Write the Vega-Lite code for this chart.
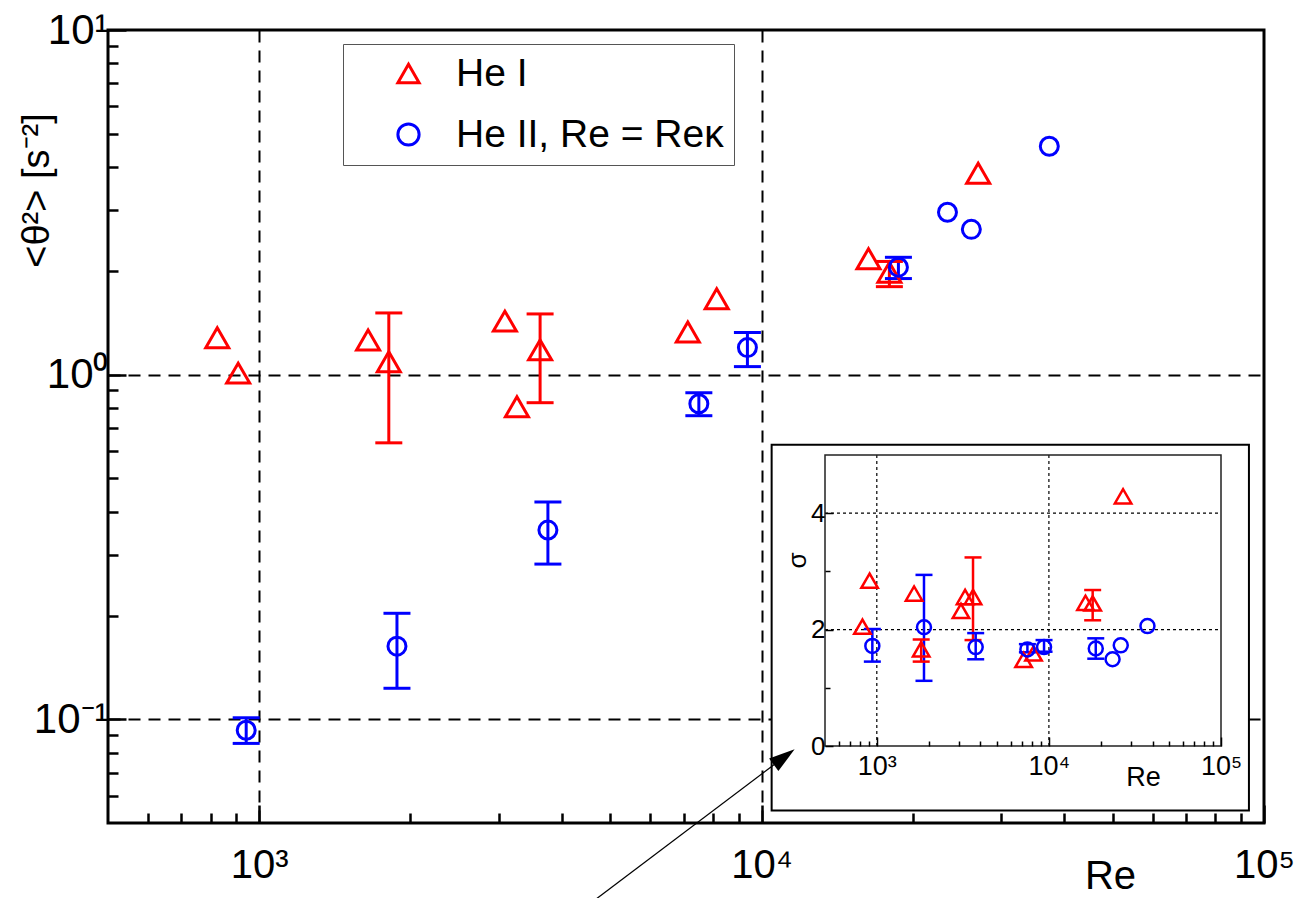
{
"$schema":"https://vega.github.io/schema/vega-lite/v6.json",
"width":1156,"height":793,
"autosize":{"type":"none"},
"padding":{"left":108,"top":30,"right":31,"bottom":75},
"background":"white",
"config":{
 "font":"Liberation Sans",
 "view":{"stroke":"black","strokeWidth":3},
 "axis":{"domain":false,"labelColor":"black","titleColor":"black","tickColor":"black","titleFontWeight":"normal","labelFont":"Liberation Sans","titleFont":"Liberation Sans","labelOverlap":false,"labelFlush":false}
},
"data":{"values":[
 {"series":"He I","Re":825,"th":1.28,"sg":2.05},
 {"series":"He I","Re":908,"th":1.01,"sg":2.84},
 {"series":"He I","Re":1647,"th":1.26,"sg":2.62},
 {"series":"He I","Re":1811,"th":1.09,"th_lo":0.634,"th_hi":1.51,"sg":1.66,"sg_lo":1.45,"sg_hi":1.83},
 {"series":"He I","Re":3083,"th":1.43,"sg":2.32},
 {"series":"He I","Re":3258,"th":0.807,"sg":2.56},
 {"series":"He I","Re":3623,"th":1.18,"th_lo":0.829,"th_hi":1.50,"sg":2.56,"sg_lo":1.82,"sg_hi":3.24},
 {"series":"He I","Re":7130,"th":1.33,"sg":1.48},
 {"series":"He I","Re":8140,"th":1.66,"sg":1.59},
 {"series":"He I","Re":16320,"th":2.17,"sg":2.46},
 {"series":"He I","Re":17960,"th":1.98,"th_lo":1.80,"th_hi":2.13,"sg":2.45,"sg_lo":2.16,"sg_hi":2.68},
 {"series":"He I","Re":26980,"th":3.84,"sg":4.29},
 {"series":"He II, Re = Reκ","Re":942,"th":0.0929,"th_lo":0.0851,"th_hi":0.101,"sg":1.72,"sg_lo":1.45,"sg_hi":2.01},
 {"series":"He II, Re = Reκ","Re":1880,"th":0.163,"th_lo":0.123,"th_hi":0.203,"sg":2.04,"sg_lo":1.12,"sg_hi":2.94},
 {"series":"He II, Re = Reκ","Re":3755,"th":0.354,"th_lo":0.282,"th_hi":0.427,"sg":1.70,"sg_lo":1.49,"sg_hi":1.94},
 {"series":"He II, Re = Reκ","Re":7500,"th":0.823,"th_lo":0.760,"th_hi":0.886,"sg":1.66,"sg_lo":1.61,"sg_hi":1.75},
 {"series":"He II, Re = Reκ","Re":9370,"th":1.198,"th_lo":1.055,"th_hi":1.325,"sg":1.70,"sg_lo":1.62,"sg_hi":1.82},
 {"series":"He II, Re = Reκ","Re":18720,"th":2.05,"th_lo":1.90,"th_hi":2.19,"sg":1.675,"sg_lo":1.50,"sg_hi":1.85},
 {"series":"He II, Re = Reκ","Re":23440,"th":2.96,"sg":1.49},
 {"series":"He II, Re = Reκ","Re":26150,"th":2.64,"sg":1.73},
 {"series":"He II, Re = Reκ","Re":37380,"th":4.60,"sg":2.06}
]},
"layer":[
 {"layer":[
  {"data":{"values":[{}]},
   "mark":{"type":"rect","fill":"white","stroke":"black","strokeWidth":2},
   "encoding":{"x":{"datum":10470,"type":"quantitative"},"x2":{"datum":93330},"y":{"datum":0.626,"type":"quantitative"},"y2":{"datum":0.0544}}},
  {"transform":[{"filter":"isValid(datum.th_lo)"}],
   "mark":{"type":"rule","strokeWidth":3},
   "encoding":{"x":{"field":"Re","type":"quantitative"},"y":{"field":"th_lo","type":"quantitative"},"y2":{"field":"th_hi"},
     "color":{"condition":{"test":"datum.series == 'He I'","value":"#ff0000"},"value":"#0000ff"}}},
  {"transform":[{"filter":"isValid(datum.th_lo)"}],
   "mark":{"type":"tick","orient":"horizontal","size":27,"thickness":3,"opacity":1},
   "encoding":{"x":{"field":"Re","type":"quantitative"},"y":{"field":"th_lo","type":"quantitative"},
     "color":{"condition":{"test":"datum.series == 'He I'","value":"#ff0000"},"value":"#0000ff"}}},
  {"transform":[{"filter":"isValid(datum.th_hi)"}],
   "mark":{"type":"tick","orient":"horizontal","size":27,"thickness":3,"opacity":1},
   "encoding":{"x":{"field":"Re","type":"quantitative"},"y":{"field":"th_hi","type":"quantitative"},
     "color":{"condition":{"test":"datum.series == 'He I'","value":"#ff0000"},"value":"#0000ff"}}},
  {"transform":[{"filter":"datum.series == 'He I'"}],
   "mark":{"type":"point","filled":false,"strokeWidth":3,"size":529,"opacity":1},
   "encoding":{
    "x":{"field":"Re","type":"quantitative","scale":{"type":"log","domain":[500,100000],"nice":false},
      "axis":{"orient":"bottom","values":[600,700,800,900,1000,2000,3000,4000,5000,6000,7000,8000,9000,10000,20000,30000,40000,50000,60000,70000,80000,90000,100000],
        "labelExpr":"datum.value == 1000 ? '10³' : datum.value == 10000 ? '10⁴' : datum.value == 100000 ? '10⁵' : ''",
        "labelFontSize":40,"labelPadding":40,
        "tickSize":{"condition":{"test":"datum.value == 1000 || datum.value == 10000 || datum.value == 100000","value":-18},"value":-10},
        "tickWidth":2.5,"grid":true,"gridColor":"black","gridDash":[12,8],"gridWidth":2,
        "gridOpacity":{"condition":{"test":"datum.value == 1000 || datum.value == 10000","value":1},"value":0},
        "title":"Re","titleFontSize":40,"titleX":1002,"titleY":65,"titleAlign":"center","titleBaseline":"alphabetic"}},
    "y":{"field":"th","type":"quantitative","scale":{"type":"log","domain":[0.05,10],"nice":false},
      "axis":{"orient":"left","values":[0.06,0.07,0.08,0.09,0.1,0.2,0.3,0.4,0.5,0.6,0.7,0.8,0.9,1,2,3,4,5,6,7,8,9,10],
        "labelExpr":"datum.value == 0.1 ? '10⁻¹' : datum.value == 1 ? '10⁰' : datum.value == 10 ? '10¹' : ''",
        "labelFontSize":42,"labelPadding":18,"labelBaseline":"middle",
        "tickSize":{"condition":{"test":"datum.value == 0.1 || datum.value == 1 || datum.value == 10","value":-18},"value":-10},
        "tickWidth":2.5,"grid":true,"gridColor":"black","gridDash":[12,8],"gridWidth":2,
        "gridOpacity":{"condition":{"test":"datum.value == 0.1 || datum.value == 1","value":1},"value":0},
        "title":"<θ²> [s⁻²]","titleFontSize":38,"titleX":-71,"titleY":160,"titleAngle":-90,"titleAlign":"center","titleBaseline":"middle"}},
    "color":{"field":"series","type":"nominal","scale":{"domain":["He I","He II, Re = Reκ"],"range":["#ff0000","#0000ff"]},
      "legend":{"orient":"none","legendX":235,"legendY":14,"title":null,"labelFontSize":39,"labelColor":"black","labelLimit":500,"symbolSize":450,"symbolStrokeWidth":3,"padding":10,"symbolOffset":36,"labelOffset":28,"rowPadding":21,"strokeColor":"#555","fillColor":"white"}},
    "shape":{"field":"series","type":"nominal","scale":{"domain":["He I","He II, Re = Reκ"],"range":["triangle-up","circle"]}}
   }},
  {"transform":[{"filter":"datum.series != 'He I'"}],
   "mark":{"type":"point","filled":false,"strokeWidth":3,"size":324,"opacity":1},
   "encoding":{"x":{"field":"Re","type":"quantitative"},"y":{"field":"th","type":"quantitative"},
    "color":{"field":"series","type":"nominal"},"shape":{"field":"series","type":"nominal"}}},
  {"data":{"values":[{}]},
   "mark":{"type":"rule","color":"black","strokeWidth":1.3},
   "encoding":{"x":{"datum":4699,"type":"quantitative"},"y":{"datum":0.0302,"type":"quantitative"},"x2":{"datum":11090},"y2":{"datum":0.0777}}},
  {"data":{"values":[{}]},
   "mark":{"type":"point","shape":"M0,-1L0.6,1L-0.6,1Z","filled":true,"color":"black","size":676,"angle":53.4,"opacity":1,"strokeWidth":0},
   "encoding":{"x":{"datum":11090,"type":"quantitative"},"y":{"datum":0.0777,"type":"quantitative"}}}
 ]},
 {"layer":[
  {"data":{"values":[{}]},
   "mark":{"type":"rule","color":"black","strokeWidth":1.2,"strokeDash":[3,3]},
   "encoding":{"x":{"datum":1000,"type":"quantitative"},"y":{"datum":0,"type":"quantitative"},"y2":{"datum":5}}},
  {"data":{"values":[{}]},
   "mark":{"type":"rule","color":"black","strokeWidth":1.2,"strokeDash":[3,3]},
   "encoding":{"x":{"datum":10000,"type":"quantitative"},"y":{"datum":0,"type":"quantitative"},"y2":{"datum":5}}},
  {"data":{"values":[{}]},
   "mark":{"type":"rule","color":"black","strokeWidth":1.2,"strokeDash":[3,3]},
   "encoding":{"y":{"datum":2,"type":"quantitative"},"x":{"datum":500,"type":"quantitative"},"x2":{"datum":100000}}},
  {"data":{"values":[{}]},
   "mark":{"type":"rule","color":"black","strokeWidth":1.2,"strokeDash":[3,3]},
   "encoding":{"y":{"datum":4,"type":"quantitative"},"x":{"datum":500,"type":"quantitative"},"x2":{"datum":100000}}},
  {"data":{"values":[{}]},
   "mark":{"type":"rect","fill":"transparent","stroke":"#222","strokeWidth":1.5},
   "encoding":{"x":{"datum":500,"type":"quantitative"},"x2":{"datum":100000},"y":{"datum":0,"type":"quantitative"},"y2":{"datum":5}}},
  {"transform":[{"filter":"isValid(datum.sg_lo)"}],
   "mark":{"type":"rule","strokeWidth":2.5},
   "encoding":{"x":{"field":"Re","type":"quantitative"},"y":{"field":"sg_lo","type":"quantitative"},"y2":{"field":"sg_hi"},
     "color":{"condition":{"test":"datum.series == 'He I'","value":"#ff0000"},"value":"#0000ff"}}},
  {"transform":[{"filter":"isValid(datum.sg_lo)"}],
   "mark":{"type":"tick","orient":"horizontal","size":17,"thickness":2.5,"opacity":1},
   "encoding":{"x":{"field":"Re","type":"quantitative"},"y":{"field":"sg_lo","type":"quantitative"},
     "color":{"condition":{"test":"datum.series == 'He I'","value":"#ff0000"},"value":"#0000ff"}}},
  {"transform":[{"filter":"isValid(datum.sg_hi)"}],
   "mark":{"type":"tick","orient":"horizontal","size":17,"thickness":2.5,"opacity":1},
   "encoding":{"x":{"field":"Re","type":"quantitative"},"y":{"field":"sg_hi","type":"quantitative"},
     "color":{"condition":{"test":"datum.series == 'He I'","value":"#ff0000"},"value":"#0000ff"}}},
  {"transform":[{"filter":"datum.series == 'He I'"}],
   "mark":{"type":"point","filled":false,"strokeWidth":2.5,"size":272,"opacity":1},
   "encoding":{
    "x":{"field":"Re","type":"quantitative","scale":{"type":"log","domain":[500,100000],"nice":false,"range":[717,1113]},
      "axis":{"orient":"bottom","offset":-77,"zindex":1,"values":[600,700,800,900,1000,2000,3000,4000,5000,6000,7000,8000,9000,10000,20000,30000,40000,50000,60000,70000,80000,90000,100000],
        "labelExpr":"datum.value == 1000 ? '10³' : datum.value == 10000 ? '10⁴' : datum.value == 100000 ? '10⁵' : ''",
        "labelFontSize":27,"labelPadding":16,
        "tickSize":{"condition":{"test":"datum.value == 1000 || datum.value == 10000 || datum.value == 100000","value":-9},"value":-5},
        "tickWidth":1.5,"grid":false,
        "title":"Re","titleFontSize":27,"titleX":1035,"titleY":31,"titleAlign":"center","titleBaseline":"middle"}},
    "y":{"field":"sg","type":"quantitative","scale":{"type":"linear","domain":[0,5],"nice":false,"zero":false,"range":[716,425]},
      "axis":{"orient":"left","offset":-717,"zindex":1,"values":[0,1,2,3,4],
        "labelExpr":"datum.value == 0 ? '0' : datum.value == 2 ? '2' : datum.value == 4 ? '4' : ''",
        "labelFontSize":26,"labelPadding":8,"labelBaseline":"middle",
        "tickSize":{"condition":{"test":"datum.value == 0 || datum.value == 2 || datum.value == 4","value":-8},"value":-5},
        "tickWidth":1.5,"grid":false,
        "title":"σ","titleFontSize":26,"titleX":-28,"titleY":530,"titleAngle":-90,"titleAlign":"center","titleBaseline":"middle"}},
    "color":{"field":"series","type":"nominal"},
    "shape":{"field":"series","type":"nominal"}
   }},
  {"transform":[{"filter":"datum.series != 'He I'"}],
   "mark":{"type":"point","filled":false,"strokeWidth":2.5,"size":196,"opacity":1},
   "encoding":{"x":{"field":"Re","type":"quantitative"},"y":{"field":"sg","type":"quantitative"},
    "color":{"field":"series","type":"nominal"},"shape":{"field":"series","type":"nominal"}}}
 ]}
],
"resolve":{"scale":{"x":"independent","y":"independent"}}
}
